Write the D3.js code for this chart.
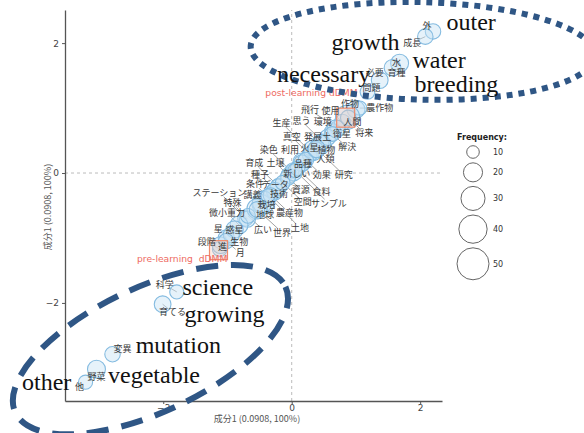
<!DOCTYPE html>
<html><head><meta charset="utf-8">
<script src="https://cdn.jsdelivr.net/npm/d3@7"></script>
<style>body{margin:0;background:#fff;overflow:hidden}</style>
</head><body><svg id="c" width="584" height="433"></svg>
<script>
// ---------- data ----------
const words = ["外","成長","水","育種","必要","問題","作物","農作物","人間","飛行","使用","生産","思う","環境","真空","発展","土","衛星","将来","染色","利用","火星","植物","解決","育成","土壌","品種","人類","種子","新しい","効果","研究","条件","データ","資源","食料","技術","空間","サンプル","ステーション","講義","特殊","栽培","微小重力","地球","農産物","土地","星","惑星","広い","世界","段階","進","生物","月","科学","育てる","変異","野菜","他"];
const xVals = [2.20,2.08,1.68,1.57,1.37,1.18,1.00,1.06,0.87,0.72,0.79,0.31,0.48,0.64,0.28,0.44,0.56,0.69,0.88,0.00,0.16,0.34,0.46,0.63,-0.21,-0.05,0.16,0.37,-0.26,0.03,0.22,0.39,-0.37,-0.21,-0.06,0.09,-0.26,-0.14,0.05,-0.72,-0.47,-0.69,-0.44,-0.82,-0.54,-0.33,-0.37,-1.02,-0.89,-0.68,-0.54,-1.12,-1.11,-0.94,-1.02,-1.79,-2.01,-2.79,-3.04,-3.21];
const yVals = [2.18,2.10,1.69,1.62,1.43,1.25,0.98,1.00,0.86,0.69,0.78,0.31,0.48,0.63,0.28,0.45,0.55,0.68,0.85,0.02,0.17,0.35,0.44,0.60,-0.20,-0.04,0.15,0.36,-0.27,0.02,0.20,0.37,-0.38,-0.22,-0.07,0.07,-0.28,-0.15,0.04,-0.70,-0.48,-0.71,-0.45,-0.80,-0.55,-0.34,-0.35,-1.00,-0.87,-0.66,-0.56,-1.17,-1.11,-0.95,-1.05,-1.83,-2.02,-2.79,-3.02,-3.22];
const freqs = [14,14,18,16,16,13,18,12,30,14,15,13,14,16,13,17,15,18,14,12,18,22,20,13,13,14,16,15,15,18,14,17,15,16,14,13,17,13,12,14,20,15,26,18,22,13,12,15,17,13,14,13,16,15,14,12,16,14,18,12];
const xTicks = [-2, 0, 2];
const yTicks = [-2, 0, 2];
const legendValues = [10, 20, 30, 40, 50];
const legendTitle = "Frequency:";
const axisTitle = "成分1 (0.0908, 100%)";
const groupNames = ["post-learning dDMM", "pre-learning  dDMM"];
const groupX = [0.84, -1.14];
const groupY = [0.86, -1.18];
const noteWords = ["outer","growth","water","necessary","breeding","science","growing","mutation","vegetable","other"];
const noteX = [2.41, 0.62, 1.88, -0.23, 1.91, -1.70, -1.67, -2.43, -2.86, -4.20];
const noteY = [2.20, 1.89, 1.62, 1.40, 1.25, -1.88, -2.29, -2.77, -3.23, -3.34];

// ---------- layout (label offsets in px) ----------
const labelOffsets = [[-6,-6],[-13,6],[-3,0],[4,5],[-5,-7],[4,-4],[-6,-6],[20,0],[5,5],[-28,-18],[-12,-12],[-30,-30],[-21,-21],[-10,-10],[-18,-18],[-7,-7],[-1,-1],[6,5],[16,15],[-23,-22],[-12,-12],[-4,-3],[5,5],[15,13],[-24,-23],[-13,-13],[1,0],[10,9],[-15,-16],[3,2],[16,15],[27,26],[-13,-14],[-3,-3],[13,12],[24,23],[4,3],[20,19],[34,33],[-26,-26],[-9,-9],[-15,-16],[3,3],[-12,-12],[8,6],[19,18],[32,32],[-8,-9],[0,0],[15,14],[25,23],[-13,-7],[2,2],[8,7],[14,12],[-12,-7],[10,8],[10,-5],[0,8],[-6,5]];

const svg = d3.select("#c");
const x = d3.scaleLinear().domain([-3.53, 2.34]).range([65, 442]);
const y = d3.scaleLinear().domain([-3.51, 2.51]).range([401, 10]);
const r = d3.scaleSqrt().domain([10, 50]).range([6.3, 16]);

// reference lines
svg.append("line").attr("x1", x.range()[0]).attr("x2", x.range()[1]).attr("y1", y(0)).attr("y2", y(0))
  .attr("stroke", "#bbb").attr("stroke-dasharray", "3,3");
svg.append("line").attr("x1", x(0)).attr("x2", x(0)).attr("y1", y.range()[0]).attr("y2", y.range()[1])
  .attr("stroke", "#bbb").attr("stroke-dasharray", "3,3");

// axes
const gx = svg.append("g").attr("transform", `translate(0,${y.range()[0]})`)
  .call(d3.axisBottom(x).tickValues(xTicks).tickSize(3).tickSizeOuter(0).tickFormat(d3.format("d")));
const gy = svg.append("g").attr("transform", `translate(${x.range()[0]},0)`)
  .call(d3.axisLeft(y).tickValues(yTicks).tickSize(3).tickSizeOuter(0).tickFormat(d3.format("d")));
[gx, gy].forEach(g => {
  g.select(".domain").attr("stroke", "#555").attr("stroke-width", 1.3);
  g.selectAll(".tick line").attr("stroke", "#555");
  g.selectAll(".tick text").attr("fill", "#444").attr("font-size", 9).attr("font-family", "DejaVu Sans, sans-serif");
});
gx.selectAll(".tick text").attr("y", 4);

svg.append("text").attr("x", 257).attr("y", 422).attr("text-anchor", "middle")
  .attr("font-family", "Noto Sans CJK JP").attr("font-size", 9).attr("fill", "#555").text(axisTitle);
svg.append("text").attr("transform", "translate(51,207) rotate(-90)").attr("text-anchor", "middle")
  .attr("font-family", "Noto Sans CJK JP").attr("font-size", 9).attr("fill", "#555").text(axisTitle);

// data objects
const pts = words.map((w, i) => ({w, cx: x(xVals[i]), cy: y(yVals[i]), rr: r(freqs[i]),
  lx: x(xVals[i]) + labelOffsets[i][0], ly: y(yVals[i]) + labelOffsets[i][1]}));

// leader lines
svg.append("g").selectAll("line").data(pts.filter(p => Math.hypot(p.lx - p.cx, p.ly - p.cy) > 12))
  .join("line")
  .attr("x1", p => p.cx).attr("y1", p => p.cy)
  .attr("x2", p => { const d = Math.hypot(p.lx - p.cx, p.ly - p.cy); return p.lx - (p.lx - p.cx) / d * 6; })
  .attr("y2", p => { const d = Math.hypot(p.lx - p.cx, p.ly - p.cy); return p.ly - (p.ly - p.cy) / d * 6; })
  .attr("stroke", "#999").attr("stroke-width", 0.9);

// bubbles
svg.append("g").selectAll("circle").data(pts).join("circle")
  .attr("cx", p => p.cx).attr("cy", p => p.cy).attr("r", p => p.rr)
  .attr("fill", "#c8e2f3").attr("fill-opacity", 0.45)
  .attr("stroke", "#84bbe0").attr("stroke-width", 1.1);

// group squares
const gs = svg.append("g");
groupNames.forEach((n, i) => {
  gs.append("rect").attr("x", x(groupX[i]) - 9).attr("y", y(groupY[i]) - 9).attr("width", 18).attr("height", 19)
    .attr("fill", "#f6c9b8").attr("fill-opacity", 0.35).attr("stroke", "#ef8a6a").attr("stroke-width", 1.2);
});
gs.append("text").attr("x", x(groupX[0]) + 12).attr("y", y(groupY[0]) - 21).attr("text-anchor", "end")
  .attr("font-family", "DejaVu Sans").attr("font-size", 9.2).attr("fill", "#ee6a62").text(groupNames[0]);
gs.append("text").attr("x", x(groupX[1]) + 9).attr("y", y(groupY[1]) + 12).attr("text-anchor", "end")
  .attr("font-family", "DejaVu Sans").attr("font-size", 9.2).attr("fill", "#ee6a62")
  .style("white-space", "pre").text(groupNames[1]);

// word labels
svg.append("g").selectAll("text").data(pts).join("text")
  .attr("x", p => p.lx).attr("y", p => p.ly).attr("text-anchor", "middle").attr("dy", "0.36em")
  .attr("font-family", "Noto Sans CJK JP").attr("font-size", 9).attr("fill", "#3a3a3a").text(p => p.w);

// legend
const lg = svg.append("g");
lg.append("text").attr("x", 457).attr("y", 140).attr("font-family", "DejaVu Sans").attr("font-weight", "bold")
  .attr("font-size", 8).attr("fill", "#222").text(legendTitle);
let cyL = 152 - r(legendValues[0]);
legendValues.forEach((v, i) => {
  const rv = r(v);
  const c = cyL + rv;
  lg.append("circle").attr("cx", 473).attr("cy", c).attr("r", rv).attr("fill", "none").attr("stroke", "#666").attr("stroke-width", 1);
  lg.append("text").attr("x", 493).attr("y", c).attr("dy", "0.35em").attr("font-family", "DejaVu Sans")
    .attr("font-size", 8).attr("fill", "#333").text(v);
  cyL = c + rv + 4.5;
});

// annotation ellipses
const ann = svg.append("g");
const ux = 64.22, uy = 65;
ann.append("ellipse").attr("cx", x(2.04)).attr("cy", y(1.88)).attr("rx", 2.68 * ux).attr("ry", 0.75 * uy)
  .attr("transform", `rotate(1.5,${x(2.04)},${y(1.88)})`)
  .attr("fill", "none").attr("stroke", "#2f5685").attr("stroke-width", 6).attr("stroke-dasharray", "6,6");
ann.append("ellipse").attr("cx", x(-2.20)).attr("cy", y(-2.72)).attr("rx", 2.32 * ux).attr("ry", 0.96 * uy)
  .attr("transform", `rotate(-25,${x(-2.20)},${y(-2.72)})`)
  .attr("fill", "none").attr("stroke", "#2f5685").attr("stroke-width", 6).attr("stroke-dasharray", "22,13");

ann.selectAll("text.note").data(noteWords).join("text").attr("class", "note")
  .attr("x", (d, i) => x(noteX[i])).attr("y", (d, i) => y(noteY[i]))
  .attr("font-family", "Liberation Serif, Times New Roman, serif").attr("font-size", 24).attr("fill", "#111")
  .text(d => d);
</script>
</body></html>
